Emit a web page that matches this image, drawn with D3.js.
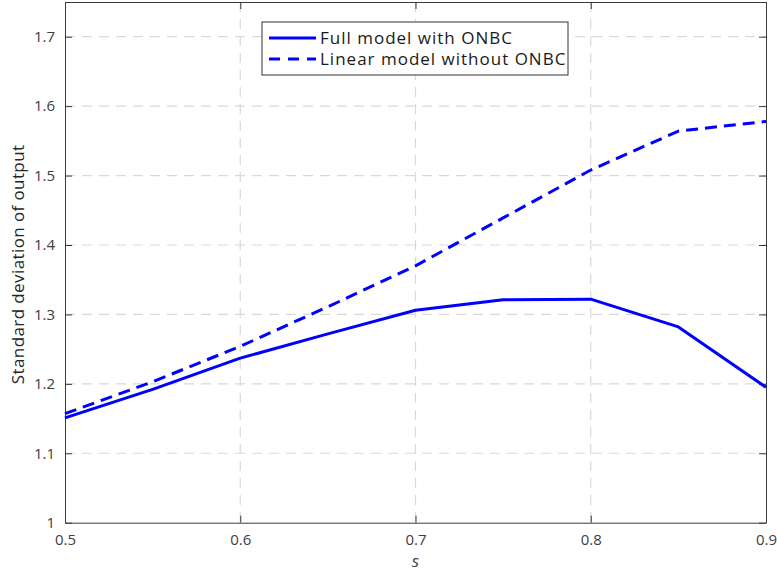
<!DOCTYPE html>
<html>
<head>
<meta charset="utf-8">
<script src="https://cdn.jsdelivr.net/npm/d3@7"></script>
<style>
  html, body { margin: 0; padding: 0; background: #fff; }
  svg { display: block; font-family: "Open Sans", "Noto Sans", sans-serif; }
</style>
</head>
<body>
<svg id="chart" width="777" height="572"></svg>
<script>
// Output volatility against s for the two model variants
const sValues = [0.5, 0.55, 0.6, 0.65, 0.7, 0.75, 0.8, 0.85, 0.9];
const fullModel = [1.151, 1.192, 1.237, 1.272, 1.306, 1.321, 1.322, 1.282, 1.195];
const linearModel = [1.157, 1.203, 1.254, 1.311, 1.370, 1.439, 1.508, 1.564, 1.578];
const seriesNames = ["Full model with ONBC", "Linear model without ONBC"];
const xTicks = [0.5, 0.6, 0.7, 0.8, 0.9];
const yTicks = [1, 1.1, 1.2, 1.3, 1.4, 1.5, 1.6, 1.7];

const svg = d3.select("#chart");
const plot = { left: 65, right: 766, top: 2, bottom: 522.7 };

const x = d3.scaleLinear().domain([0.5, 0.9]).range([plot.left, plot.right]);
const y = d3.scaleLinear().domain([1, 1.75]).range([plot.bottom, plot.top]);

const gridColor = "#d9d9d9";
const axisColor = "#3a3a3a";
const textColor = "#404040";

// Grid lines
const grid = svg.append("g");
grid.selectAll("line.gx").data(xTicks.slice(1, -1)).join("line")
  .attr("x1", d => x(d)).attr("x2", d => x(d))
  .attr("y1", plot.top).attr("y2", plot.bottom)
  .attr("stroke", gridColor).attr("stroke-width", 1.2)
  .attr("stroke-dasharray", "10,7");
grid.selectAll("line.gy").data(yTicks.slice(1)).join("line")
  .attr("x1", plot.left).attr("x2", plot.right)
  .attr("y1", d => y(d)).attr("y2", d => y(d))
  .attr("stroke", gridColor).attr("stroke-width", 1.2)
  .attr("stroke-dasharray", "10,7");

// Axes with inward ticks on all four sides
function styleAxis(g) {
  g.select(".domain").attr("stroke", axisColor).attr("stroke-width", 1);
  g.selectAll(".tick line").attr("stroke", axisColor);
  g.selectAll(".tick text").attr("fill", textColor).style("font-size", "15px")
    .style("font-family", "'Open Sans', 'Noto Sans', sans-serif");
}
svg.append("g").attr("transform", `translate(0,${plot.bottom})`)
  .call(d3.axisBottom(x).tickValues(xTicks).tickFormat(d3.format(".1f"))
    .tickSizeInner(-7).tickSizeOuter(0).tickPadding(12))
  .call(styleAxis);
svg.append("g").attr("transform", `translate(0,${plot.top})`)
  .call(d3.axisTop(x).tickValues(xTicks).tickFormat("").tickSizeInner(-7).tickSizeOuter(0))
  .call(styleAxis);
svg.append("g").attr("transform", `translate(${plot.left},0)`)
  .call(d3.axisLeft(y).tickValues(yTicks).tickFormat(d => d === 1 ? "1" : d3.format(".1f")(d))
    .tickSizeInner(-7).tickSizeOuter(0).tickPadding(10))
  .call(styleAxis);
svg.append("g").attr("transform", `translate(${plot.right},0)`)
  .call(d3.axisRight(y).tickValues(yTicks).tickFormat("").tickSizeInner(-7).tickSizeOuter(0))
  .call(styleAxis);

// Series lines
const line = d3.line().x((d, i) => x(sValues[i])).y(d => y(d));
svg.append("path").datum(fullModel)
  .attr("d", line).attr("fill", "none").attr("stroke", "#0000ff")
  .attr("stroke-width", 3).attr("stroke-linejoin", "round");
svg.append("path").datum(linearModel)
  .attr("d", line).attr("fill", "none").attr("stroke", "#0000ff")
  .attr("stroke-width", 3).attr("stroke-dasharray", "12,7");

// Axis labels
svg.append("text")
  .attr("x", x(0.7)).attr("y", 567)
  .attr("text-anchor", "middle").attr("fill", textColor)
  .style("font-size", "17px").style("font-style", "italic")
  .text("s");
svg.append("text")
  .attr("transform", `translate(24,${(plot.top + plot.bottom) / 2 + 2}) rotate(-90)`)
  .attr("text-anchor", "middle").attr("fill", "#262626")
  .style("font-size", "17px").style("letter-spacing", "0.4px")
  .text("Standard deviation of output");

// Legend
const legend = svg.append("g").attr("transform", "translate(262,22)");
legend.append("rect").attr("width", 306).attr("height", 53)
  .attr("fill", "#fff").attr("stroke", "#333").attr("stroke-width", 1);
const legendRows = legend.selectAll("g.row").data(seriesNames).join("g")
  .attr("transform", (d, i) => `translate(0,${16 + i * 21})`);
legendRows.append("line")
  .attr("x1", 7).attr("x2", 54).attr("y1", 0).attr("y2", 0)
  .attr("stroke", "#0000ff").attr("stroke-width", 3)
  .attr("stroke-dasharray", (d, i) => i === 1 ? "11,8" : null);
legendRows.append("text")
  .attr("x", 58).attr("y", 0).attr("dy", "0.35em")
  .attr("fill", "#1a1a1a").style("font-size", "17px").style("letter-spacing", "1px")
  .text(d => d);
</script>
</body>
</html>
